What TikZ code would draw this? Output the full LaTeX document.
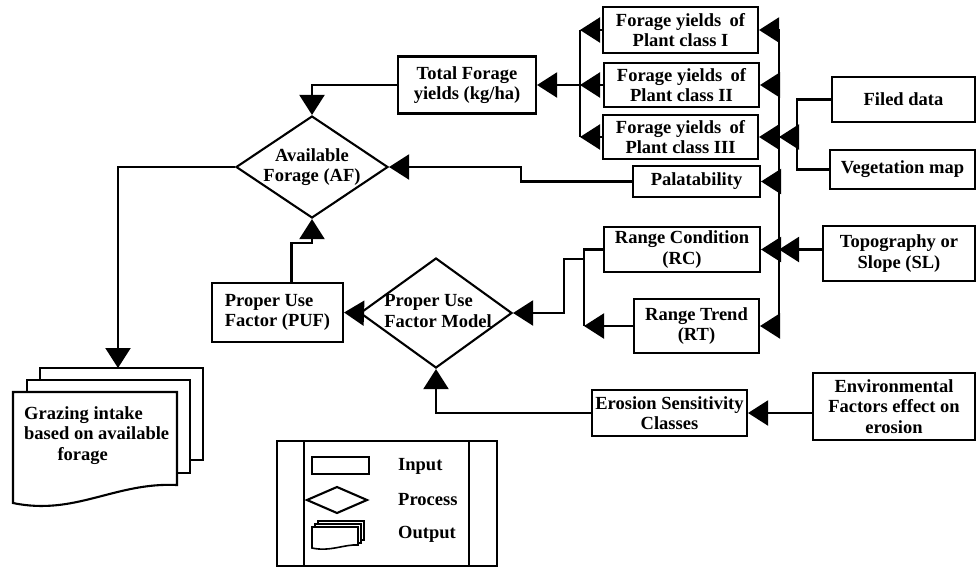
\documentclass[tikz,border=0pt]{standalone}
\usepackage{fontspec}
\setmainfont{Liberation Serif}
\usetikzlibrary{arrows.meta,shapes.geometric,calc}
\begin{document}
\begin{tikzpicture}[x=1pt,y=-1pt,
  every node/.style={font=\bfseries\fontsize{18.5}{20.5}\selectfont},
  box/.style={draw, line width=2.1pt, inner sep=2pt, align=center},
  dia/.style={draw, diamond, line width=2.1pt, inner sep=0pt},
  lbl/.style={inner sep=0pt, align=center},
  conn/.style={line width=2.1pt},
  arr/.style={conn, -{Triangle[length=20pt,width=25pt]}},
]
\useasboundingbox (0,0) rectangle (978,566);

% input / process boxes
\node[box, minimum width=138pt, minimum height=57pt] (tf) at (467,85) {Total Forage\\yields (kg/ha)};
\node[box, minimum width=155pt, minimum height=46pt] (fy1) at (680.5,30) {Forage yields\hspace{0.45em}of\\Plant class I};
\node[box, minimum width=155pt, minimum height=44pt] (fy2) at (681.5,85) {Forage yields\hspace{0.45em}of\\Plant class II};
\node[box, minimum width=155pt, minimum height=44pt] (fy3) at (680.5,137) {Forage yields\hspace{0.45em}of\\Plant class III};
\node[box, minimum width=127pt, minimum height=31pt] (pal) at (696.5,181.5) {Palatability};
\node[box, minimum width=143pt, minimum height=45pt] (fd) at (903.5,99.5) {Filed data};
\node[box, minimum width=145pt, minimum height=39pt] (vm) at (902.5,169.5) {Vegetation map};
\node[box, minimum width=152pt, minimum height=55pt] (sl) at (899,253.5) {Topography or\\Slope (SL)};
\node[box, minimum width=156pt, minimum height=45pt] (rc) at (682,249.5) {Range Condition\\(RC)};
\node[box, minimum width=125pt, minimum height=54pt] (rt) at (696.5,326) {Range Trend\\(RT)};
\node[box, minimum width=155pt, minimum height=46pt] (es) at (669.5,413) {Erosion Sensitivity\\Classes};
\node[box, minimum width=162pt, minimum height=67pt] (env) at (894,406.5) {Environmental\\Factors effect on\\erosion};
\node[box, minimum width=131pt, minimum height=59pt, align=left] (puf) at (277.5,312.5) {Proper Use\\Factor (PUF)};

% diamonds
\node[dia, minimum width=152pt, minimum height=102pt] (af) at (312,167) {};
\node[lbl] (aft) at (af.center) {Available\\Forage (AF)};
\node[dia, minimum width=152pt, minimum height=110pt] (pufm) at (436,313) {};
\node[lbl, align=left] (pufmt) at (438,311) {Proper Use\\Factor Model};

% output (stacked documents)
\draw[conn] (40,380) -- (40,368) -- (203,368) -- (203,460) -- (190,460);
\draw[conn] (27,392) -- (27,380) -- (190,380) -- (190,473) -- (177,473);
\draw[conn] (13,392) -- (177,392) -- (177,485) .. controls (115,482) and (75,516) .. (13,503) -- cycle;
\node[lbl, align=left, anchor=north west] (gz) at (24,406) {Grazing intake\\based on available\\\hspace*{1.8em}forage};
\coordinate (gztop) at (118,368);

% legend
\draw[conn] (277,441) rectangle (497,566);
\draw[conn] (304,441) -- (304,566);
\draw[conn] (469,441) -- (469,566);
\draw[conn] (312,457) rectangle (369,474);
\draw[conn] (307,500) -- (337,487) -- (367,500) -- (337,513) -- cycle;
\draw[line width=1.6pt] (318,524) -- (318,521) -- (364,521) -- (364,540) -- (361,540);
\draw[line width=1.6pt] (315,527) -- (315,524) -- (361,524) -- (361,543) -- (358,543);
\draw[line width=1.6pt] (312,527) -- (358,527) -- (358,545) .. controls (345,544) and (330,552) .. (312,548) -- cycle;
\node[lbl, anchor=west] (lin) at (398,466) {Input};
\node[lbl, anchor=west] (lpr) at (398,500) {Process};
\node[lbl, anchor=west] (lout) at (398,534) {Output};

% buses
\coordinate (lbus) at (580,0);
\coordinate (rbus) at (779,0);
\coordinate (mbus) at (584,0);
\coordinate (fvj) at (797,137);
\coordinate (j1) at (584,259);

% connectors
\draw[arr] (fy1.west) -- (fy1.west -| lbus);
\draw[arr] (fy2.west) -- (fy2.west -| lbus);
\draw[arr] (fy3.west) -- (fy3.west -| lbus);
\draw[conn] (fy1.west -| lbus) -- (fy3.west -| lbus);
\draw[arr] (fy2.west -| lbus) -- (tf.east);

\draw[conn] (fy1.east -| rbus) -- (rt.east -| rbus);
\foreach \n in {fy1,fy2,fy3,pal,rc,rt} \draw[arr] (\n.east -| rbus) -- (\n.east);
\draw[conn] (fd.west) -| (fvj);
\draw[conn] (vm.west) -| (fvj);
\draw[arr] (fvj) -- (fvj -| rbus);
\draw[arr] (sl.west |- rc.east) -- (rc.east -| rbus);

\draw[conn] (rc.west) -- (rc.west -| mbus) -- (rt.west -| mbus);
\draw[arr] (rt.west) -- (rt.west -| mbus);
\draw[arr] (j1) -- ++(-20,0) |- (pufm.east);
\draw[arr] (es.west) -| (pufm.south);
\draw[arr] (env.west |- es.east) -- (es.east);
\draw[arr] (pufm.west) -- (puf.east);
\draw[arr] ([xshift=14pt]puf.north) -- ++(0,-39) -| (af.south);
\draw[arr] (af.west) -| (gztop);
\draw[arr] (tf.west) -| (af.north);
\draw[arr] (pal.west) -- ++(-111,0) |- (af.east);
\end{tikzpicture}
\end{document}
